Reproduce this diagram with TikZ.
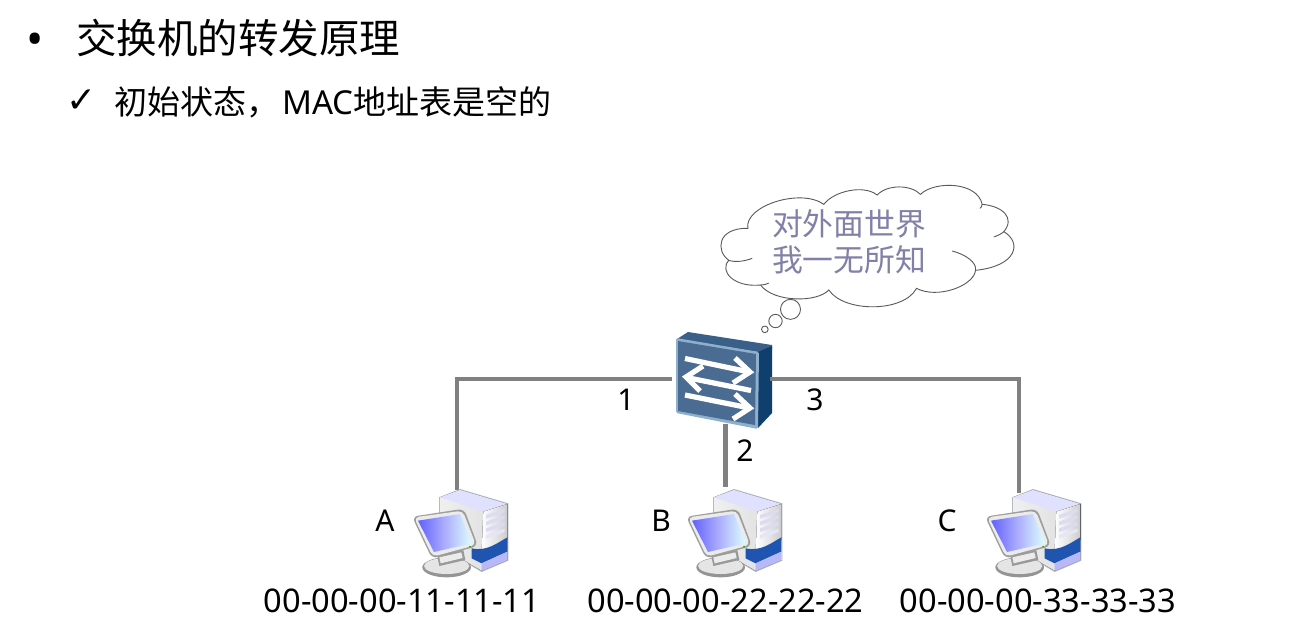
\documentclass[tikz,border=0pt]{standalone}
\usepackage{fontspec}
\setmainfont{Noto Sans}
\newfontfamily\cjk{Noto Sans CJK SC}
\newfontfamily\sym{DejaVu Sans}
\definecolor{linkgray}{HTML}{808080}
\definecolor{cloudtxt}{HTML}{8080A8}
\definecolor{swfront}{HTML}{4A6C92}
\definecolor{swtop}{HTML}{3A5F88}
\definecolor{swside}{HTML}{0F3F6C}
\definecolor{swedge}{HTML}{8FB0CC}
\definecolor{pcblue}{HTML}{1F55B0}
\definecolor{towerline}{HTML}{B4B8C4}
\newcommand{\pcicon}[3]{%
 \begin{scope}[shift={(#1,#2)},scale=1/3]
  \node[pcbox] (#3) at (180,150) {};
  % tower
  \fill[towerline] (117,52) -- (180,27) -- (325,70) -- (325,242) -- (245,276) -- (117,200) -- cycle;
  \fill[towerside] (120,52) -- (180,30) -- (322,72) -- (322,240) -- (245,272) -- (120,200) -- cycle;
  \fill[white!88!blue] (120,52) -- (180,30) -- (322,72) -- (250,95) -- cycle;
  \fill[left color=white,right color=black!20] (250,95) -- (322,72) -- (322,180) -- (245,215) -- cycle;
  \fill[black!32!blue!14] (258,105) -- (314,86) -- (314,96) -- (258,116) -- cycle;
  \fill[black!32!blue!14] (258,125) -- (314,106) -- (314,116) -- (258,136) -- cycle;
  \fill[black!32!blue!14] (258,145) -- (314,126) -- (314,136) -- (258,156) -- cycle;
  \fill[black!25!blue!10] (258,165) -- (314,146) -- (314,156) -- (258,176) -- cycle;
  \fill[pcblue] (215,205) .. controls (260,215) and (290,190) .. (322,172) -- (322,215) -- (245,250) -- (215,235) -- cycle;
  \fill[black!10!blue!28] (245,250) -- (322,215) -- (322,240) -- (245,272) -- cycle;
  % stand
  \fill[black!42] (140,262) ellipse [x radius=73,y radius=30];
  \fill[black!10] (140,258) ellipse [x radius=68,y radius=24];
  \fill[black!40] (112,228) -- (190,210) -- (196,240) -- (118,258) -- cycle;
  \fill[black!8] (118,232) -- (184,217) -- (188,234) -- (122,250) -- cycle;
  % monitor
  \fill[black!38,rounded corners=6] (36,110) -- (192,86) -- (234,198) -- (96,236) -- cycle;
  \fill[black!8,rounded corners=5] (42,112) -- (188,92) -- (228,195) -- (98,230) -- cycle;
  \path[shade,shading angle=150,left color=blue!62!white,right color=cyan!14,middle color=blue!32!white]
    (54,122) -- (180,102) -- (216,190) -- (102,216) -- cycle;
  \fill[green!60!black] (210,200) circle (2.5);
 \end{scope}}
\tikzset{
 link/.style={draw=linkgray,line width=4.4pt,line join=miter},
 txt/.style={inner sep=0pt,outer sep=0pt,text=black},
 headtxt/.style={txt,anchor=west,font=\cjk\fontsize{40.5}{48}\selectfont},
 subtxt/.style={txt,anchor=west,font=\cjk\fontsize{33}{40}\selectfont},
 thought/.style={txt,text=cloudtxt,font=\cjk\fontsize{30.8}{36}\selectfont},
 lab/.style={txt,font=\fontsize{30}{36}\selectfont},
 addr/.style={txt,font=\fontsize{32.6}{38}\selectfont},
 cloudline/.style={draw=black!65,line width=0.9pt},
 arrowline/.style={draw=white,line width=5.2pt},
 arrowhead/.style={draw=white,line width=5.2pt,line join=miter},
 pcbox/.style={inner sep=0pt,minimum width=32pt,minimum height=29pt},
 towerside/.style={left color=black!6,right color=black!14},
 switchbox/.style={inner sep=0pt,minimum width=95pt,minimum height=96pt}
}
\begin{document}
\begin{tikzpicture}[x=1pt,y=-1pt]
\useasboundingbox (0,0) rectangle (1313,641);
\fill[white] (0,0) rectangle (1313,641);

% headings
\node[txt,font=\fontsize{46}{50}\selectfont] (bullet) at (35.5,44) {•};
\node[headtxt] (title) at (76,38) {交换机的转发原理};
\node[txt,font=\sym\fontsize{36}{40}\selectfont] (check) at (82,101) {✓};
\node[subtxt] (sub) at (114.5,102) {初始状态，\hspace{3pt}\fontspec{Noto Sans}MAC\cjk 地址表是空的};

% anchors for connectors
\node[switchbox] (sw) at (724.5,380) {};
\coordinate (swW) at (672,379);
\coordinate (swE) at (770,379);
\coordinate (swS) at (725.5,424);

\coordinate (pcAt) at (457,490);
\coordinate (pcBt) at (725.5,487);
\coordinate (pcCt) at (1019,493);

\draw[link] (swS) -- (pcBt);
\draw[link] (swW) -| (pcAt);

% switch
\fill[swtop] (677,339) -- (688,332) -- (772,345) -- (772,350) -- (758,352) -- cycle;
\fill[swside] (758,352) -- (772,346) -- (772,413) -- (758,428) -- cycle;
\fill[swedge,rounded corners=1.5] (676,338) -- (759,352) -- (758,429) -- (676,413) -- cycle;
\fill[swfront] (678,341) -- (756,354) -- (755,425) -- (678,411) -- cycle;
% arrows of the switch
\draw[arrowline] (685,358.5) -- (747,371.5);
\draw[arrowhead] (735,358) -- (750,372) -- (733,383);
\draw[arrowline] (689,378) -- (751,390.5);
\draw[arrowhead] (703,366) -- (686,377) -- (700,391);
\draw[arrowline] (685,395) -- (747,407.5);
\draw[arrowhead] (735,394) -- (750,408) -- (733,419);

\draw[link] (swE) -| (pcCt);

% cloud
\begin{scope}[shift={(660.5,171)},scale=1/3]
 \draw[cloudline,fill=white]
  (262,172) .. controls (250,105) and (420,50) .. (490,100)
  .. controls (520,60) and (610,40) .. (650,72)
  .. controls (680,40) and (750,40) .. (780,70)
  .. controls (820,30) and (950,30) .. (965,100)
  .. controls (1025,105) and (1065,140) .. (1030,182)
  .. controls (1085,215) and (1070,285) .. (945,298)
  .. controls (940,345) and (830,385) .. (768,352)
  .. controls (730,425) and (550,425) .. (505,357)
  .. controls (470,395) and (340,395) .. (300,342)
  .. controls (220,350) and (175,300) .. (205,268)
  .. controls (165,240) and (170,170) .. (262,172) -- cycle;
 \draw[cloudline] (205,268) .. controls (225,275) and (255,270) .. (275,262);
 \draw[cloudline] (945,298) .. controls (950,275) and (915,250) .. (875,240);
 \draw[cloudline] (1030,182) .. controls (1020,190) and (1010,195) .. (1000,198);
 \draw[cloudline] (965,100) .. controls (965,105) and (962,110) .. (958,112);
 \draw[cloudline] (300,342) .. controls (310,342) and (318,340) .. (325,336);
 \draw[cloudline,fill=white] (390,415) circle (30);
 \draw[cloudline,fill=white] (345,450) circle (20);
 \draw[cloudline,fill=white] (313,475) circle (10);
\end{scope}
\node[thought] (think1) at (849,224) {对外面世界};
\node[thought] (think2) at (849,260) {我一无所知};

% computers
\pcicon{400}{480}{pcA}
\pcicon{674}{480}{pcB}
\pcicon{973}{480}{pcC}

% labels
\node[lab] (p1) at (626,400) {1};
\node[lab] (p2) at (745,451) {2};
\node[lab] (p3) at (815,400) {3};
\node[lab] (la) at (385,521) {A};
\node[lab] (lb) at (661,521) {B};
\node[lab] (lc) at (947,521) {C};
\node[addr] (ma) at (402,601) {00-00-00-11-11-11};
\node[addr] (mb) at (725.5,601) {00-00-00-22-22-22};
\node[addr] (mc) at (1038,601) {00-00-00-33-33-33};
\end{tikzpicture}
\end{document}
